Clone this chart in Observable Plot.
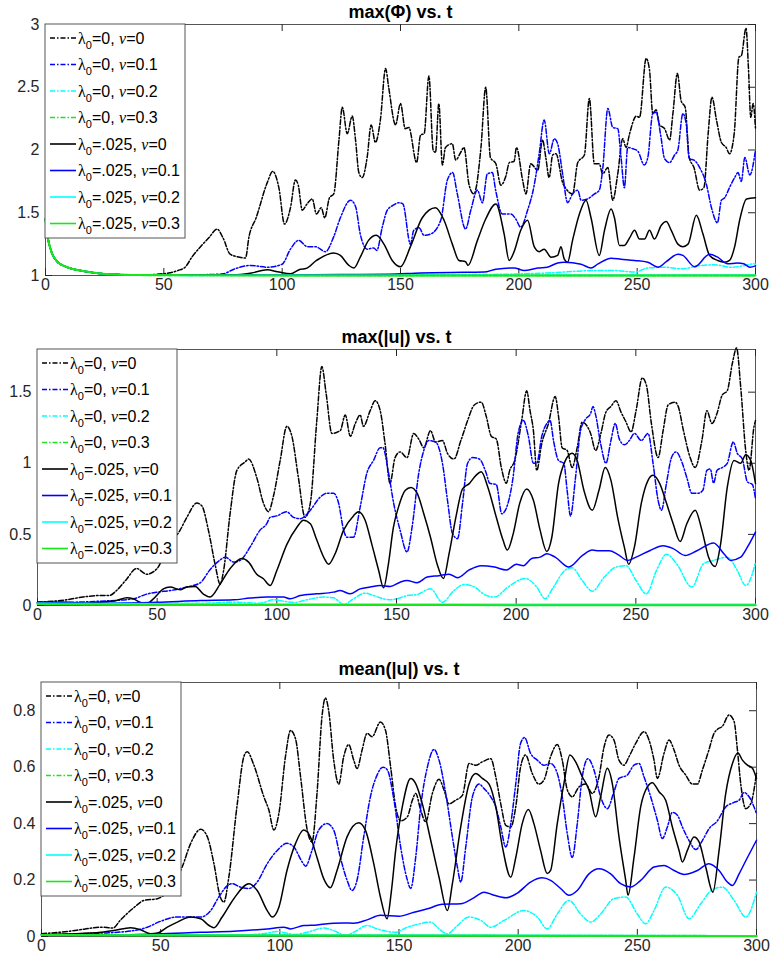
<!DOCTYPE html>
<html>
<head>
<meta charset="utf-8">
<script src="https://cdn.jsdelivr.net/npm/d3@7"></script>
<script src="https://cdn.jsdelivr.net/npm/@observablehq/plot@0.6"></script>
<style>
  body { margin: 0; background: #fff; }
  #chart svg { display: block; }
  .legend text { white-space: pre; }
</style>
</head>
<body>
<div id="chart"></div>
<script>
// ---- axis ticks ----
const tTicks = [0, 50, 100, 150, 200, 250, 300];
const phiTicks = [1, 1.5, 2, 2.5, 3];
const umaxTicks = [0, 0.5, 1, 1.5];
const umeanTicks = [0, 0.2, 0.4, 0.6, 0.8];

// ---- series legend entries (plot order) ----
const lambdaLabels = ["0", "0", "0", "0", ".025", ".025", ".025", ".025"];
const nuLabels = ["0", "0.1", "0.2", "0.3", "0", "0.1", "0.2", "0.3"];
const seriesColors = ["#000000", "#0000ff", "#00ffff", "#19e619", "#000000", "#0000ff", "#00ffff", "#19e619"];
const seriesDashed = [true, true, true, true, false, false, false, false];

// ---- max(Phi) vs t : [t, value] ----
const phiStart = [[0,1.45],[1,1.3],[2.5,1.19],[5,1.11],[8,1.075],[12,1.05],[16,1.035],[23,1.016],[30,1.008],[40,1.003]];
const maxPhi_l0_nu0 = phiStart.concat([[47,1.01],[52,1.02],[56,1.04],[59,1.066],[62,1.15],[65.5,1.23],[69,1.3],[72.5,1.37],[75,1.3],[78,1.17],[81,1.15],[84.5,1.14],[86,1.31],[89,1.46],[93.7,1.74],[96,1.83],[98.6,1.7],[101,1.41],[103.5,1.54],[105.6,1.76],[106.8,1.72],[108.5,1.52],[110.5,1.57],[112.7,1.61],[114.5,1.49],[116.5,1.54],[118,1.46],[120,1.62],[121.8,1.65],[124,2.08],[125.4,2.34],[127.5,2.13],[129.6,2.27],[131,2.08],[132.4,1.82],[133.8,1.78],[135.9,1.94],[137.6,2.2],[139.4,2.06],[141.5,2.24],[143.7,2.65],[145,2.5],[147.9,2.2],[150,2.37],[152,2.17],[153.5,2.18],[156.8,1.9],[158.5,2.12],[160,2.13],[162,2.59],[163.8,2.0],[164.8,1.98],[166.2,2.37],[167.7,1.88],[169,2.02],[171.9,2.05],[173.3,1.92],[175.4,1.98],[176.8,2.02],[179,1.72],[181,1.65],[184,2.02],[186,2.5],[188,1.94],[190.3,1.89],[192.4,1.72],[194.5,1.79],[196,1.9],[198,1.91],[199,2.02],[201.6,1.76],[203,1.65],[205,1.89],[208,1.84],[210,2.08],[211.4,1.94],[212.8,1.78],[214.3,1.96],[215.7,1.97],[218.5,1.74],[220,1.69],[222.7,1.65],[224.9,1.9],[227.7,1.96],[229.8,2.41],[231.9,1.89],[234,1.89],[235.4,1.81],[237.6,1.86],[239.7,1.6],[241.8,1.81],[243.9,2.09],[245.3,2.02],[246.8,2.13],[249.6,2.27],[251,2.26],[253.8,2.73],[255.2,2.64],[256.6,2.29],[258,2.32],[259.5,2.2],[261.6,2.17],[263.7,2.08],[265.1,2.29],[267,2.61],[268.6,2.39],[270.3,2.34],[272,1.94],[274,1.86],[276.4,1.68],[278.2,1.7],[280,2.13],[281.6,2.42],[283.5,2.24],[285.6,2.06],[287.6,2.02],[289,1.97],[291,2.13],[293,2.74],[294,2.75],[296,2.97],[297,2.66],[298,2.26],[299,2.37],[300,2.17]]);
const maxPhi_l0_nu01 = phiStart.concat([[50,1.003],[60,1.005],[70,1.008],[75,1.013],[79.6,1.05],[86.6,1.08],[93.7,1.066],[100,1.09],[103.5,1.21],[107,1.28],[110.6,1.23],[114,1.23],[118.3,1.19],[121.8,1.31],[124.6,1.46],[128.9,1.6],[131,1.55],[133,1.33],[135.9,1.21],[138.7,1.22],[140,1.2],[142.3,1.385],[144.4,1.52],[147,1.56],[149.3,1.58],[151,1.57],[154.2,1.25],[155.6,1.36],[157.8,1.38],[160,1.32],[162.7,1.33],[167,1.44],[169.8,1.76],[172,1.82],[174,1.65],[177.5,1.37],[179.7,1.52],[182.5,1.68],[184.6,1.58],[186.7,1.81],[188.8,1.82],[190.2,1.68],[193,1.49],[196.6,1.49],[198.7,1.45],[200.8,1.385],[203.7,1.52],[206.5,1.72],[208.6,1.97],[210.7,2.24],[212.9,1.97],[215,2.09],[216.4,2.05],[218.5,1.81],[220.6,1.58],[222.7,1.65],[224.9,1.68],[226.3,1.6],[229,1.61],[232,1.65],[234,1.68],[235.5,1.86],[237.6,2.33],[239.7,2.18],[241.8,2.17],[243.2,1.94],[244.6,1.7],[246,2.02],[248.2,2.01],[250.3,1.99],[253,1.88],[254.5,1.94],[256.6,2.29],[258,2.3],[260,2.11],[261.6,1.93],[263.7,1.9],[265.8,1.96],[267.2,2.0],[269.3,2.29],[270.7,2.21],[272,1.93],[274,1.92],[276.4,1.86],[279.2,1.73],[281.4,1.54],[283.9,1.42],[285.6,1.6],[287,1.62],[289,1.7],[291.2,1.78],[292.6,1.82],[294,1.75],[295.5,1.94],[297.6,1.8],[300,2.0]]);
const maxPhi_l0_nu02 = phiStart.concat([[60,1.001],[120,1.003],[160,1.008],[184,1.008],[212,1.02],[233.3,1.04],[240.4,1.04],[249,1.027],[254.5,1.06],[261.6,1.066],[268.6,1.053],[277,1.08],[282.8,1.085],[289.8,1.066],[295.5,1.08],[299,1.093],[300,1.09]]);
const maxPhi_l0_nu03 = phiStart.concat([[100,1.001],[300,1.001]]);
const maxPhi_l025_nu0 = phiStart.concat([[50,1.002],[70,1.005],[79.6,1.005],[87,1.02],[93.7,1.045],[98,1.03],[103.5,1.013],[107.7,1.05],[110,1.055],[114.5,1.12],[121.8,1.18],[124.6,1.16],[128.2,1.08],[130.3,1.06],[133,1.146],[136.5,1.28],[139.8,1.32],[143,1.25],[146.5,1.12],[150,1.07],[154.2,1.23],[159.2,1.46],[164.8,1.54],[168.4,1.44],[171.9,1.25],[174.7,1.12],[177.5,1.11],[178.5,1.08],[182.5,1.28],[186,1.45],[190.3,1.57],[193.8,1.33],[195.9,1.12],[198,1.19],[200.8,1.36],[203.7,1.44],[206.5,1.23],[208.6,1.19],[210.7,1.21],[213.6,1.146],[216.4,1.16],[217.8,1.23],[219.2,1.13],[220.6,1.106],[222.7,1.28],[225.6,1.49],[228.4,1.6],[230.5,1.46],[234,1.16],[236.2,1.36],[239,1.53],[240.4,1.46],[242.5,1.24],[244.6,1.24],[246.8,1.3],[248.9,1.36],[251,1.29],[253.1,1.29],[255.2,1.36],[257.3,1.29],[260.2,1.4],[262.3,1.43],[264.4,1.36],[267.2,1.25],[269.3,1.23],[271.5,1.25],[275,1.48],[277.8,1.33],[280.6,1.16],[284,1.12],[287,1.106],[289,1.12],[291.2,1.23],[293.3,1.44],[296.2,1.61],[300,1.62]]);
const maxPhi_l025_nu01 = phiStart.concat([[60,1.002],[100,1.004],[130,1.008],[145,1.01],[158.5,1.02],[176.8,1.025],[185.3,1.027],[190.3,1.05],[198,1.06],[202.3,1.04],[208,1.06],[212,1.066],[216.4,1.1],[219.2,1.106],[226.3,1.09],[230.5,1.06],[233.3,1.09],[239,1.138],[243.2,1.13],[248.9,1.12],[254.5,1.106],[258.8,1.066],[262.3,1.11],[267.2,1.17],[269.3,1.16],[274.3,1.07],[280.6,1.17],[284,1.146],[288.2,1.093],[292.4,1.1],[295,1.093],[297.6,1.066],[300,1.077]]);
const maxPhi_l025_nu02 = phiStart.concat([[60,1.001],[300,1.003]]);
const maxPhi_l025_nu03 = phiStart.concat([[100,1.0],[300,1.0]]);

// ---- max(|u|) vs t ----
const umax_l0_nu0 = [[0,0.023],[12,0.04],[19,0.06],[26,0.07],[30,0.07],[33,0.105],[37,0.18],[41.4,0.26],[45.6,0.22],[50,0.26],[54,0.4],[59.6,0.53],[62.4,0.62],[66.6,0.72],[68.7,0.7],[71.4,0.53],[74.2,0.29],[76.3,0.15],[77.7,0.24],[80.5,0.65],[83.3,0.95],[86.8,1.01],[88.2,1.03],[91.6,0.9],[94.4,0.72],[96.5,0.66],[98.6,0.77],[101.4,1.02],[104.2,1.26],[106.3,1.19],[109,0.9],[111.8,0.62],[114,0.72],[116.7,1.3],[118.8,1.68],[120.6,1.49],[123,1.21],[126.5,1.23],[128.6,1.34],[130.7,1.19],[132.8,1.28],[134.8,1.34],[136.2,1.26],[139,1.37],[141.1,1.44],[143.2,1.37],[145.2,1.14],[147.3,0.86],[149.4,1.04],[151.5,1.08],[154.4,1.04],[157.2,1.21],[159.3,1.17],[161.4,1.11],[164.2,1.23],[166.3,1.15],[169.2,1.16],[171.3,1.07],[174,1.03],[176.9,1.16],[179.7,1.3],[182.5,1.41],[185.4,1.43],[187.5,1.33],[189.6,1.19],[191.7,1.17],[193.8,0.97],[195.9,0.86],[197.3,0.95],[199.4,1.02],[202.3,1.3],[204.4,1.51],[205.8,1.37],[207.2,1.23],[208.6,0.95],[210.7,1.14],[213.5,1.28],[216.3,1.47],[217.7,1.33],[219.2,1.11],[221.3,1.09],[223.4,0.97],[225.5,1.11],[227.6,1.29],[229.7,1.26],[231.1,1.21],[233.2,1.09],[235.4,1.21],[237.5,1.36],[239.6,1.4],[241.7,1.44],[243.8,1.36],[245.9,1.29],[248,1.22],[250.1,1.37],[252.7,1.6],[254.4,1.55],[256.5,1.28],[259.3,1.04],[261.4,1.23],[263.5,1.41],[266.3,1.43],[267.7,1.4],[269.9,1.23],[272.7,1.04],[274.8,0.97],[277.6,1.16],[279.7,1.37],[281.8,1.28],[283.9,1.35],[286.1,1.48],[288.2,1.51],[290.3,1.7],[292.1,1.81],[293.8,1.54],[295.9,1.09],[297.3,0.95],[299.4,1.26],[300,1.3]];
const umax_l0_nu01 = [[0,0.023],[12,0.023],[26,0.03],[40,0.047],[45.6,0.08],[50,0.094],[55.4,0.105],[62.4,0.13],[68,0.16],[72,0.25],[76.3,0.32],[78.4,0.34],[82,0.305],[84.7,0.317],[88.8,0.41],[93,0.53],[95.8,0.575],[97.2,0.62],[100,0.63],[104,0.66],[107,0.62],[109.8,0.61],[114,0.67],[118,0.76],[121,0.79],[123.7,0.79],[125.8,0.72],[127.9,0.53],[129.3,0.48],[132,0.48],[134.8,0.69],[137.6,0.93],[140.4,1.02],[143.2,1.11],[144.3,1.11],[146.7,0.93],[148.8,0.72],[151.5,0.53],[154.4,0.376],[156.5,0.55],[159.3,0.93],[161.4,1.09],[163.5,1.16],[166.3,1.15],[169.2,1.0],[171.3,0.74],[173.4,0.505],[175.5,0.47],[177.6,0.72],[179.7,1.0],[181.8,1.04],[184.6,1.03],[187.5,0.93],[188.9,0.86],[191.7,0.85],[194,0.645],[196.6,0.72],[198.7,0.9],[200.8,1.21],[203,1.3],[205.1,1.19],[207.2,1.0],[208.6,1.0],[210.7,1.19],[212.8,1.28],[214.2,1.3],[215.6,1.16],[217.7,1.02],[219.9,1.0],[221.3,0.81],[222.7,0.63],[224.8,0.9],[226.9,1.23],[229,1.31],[231.1,1.35],[232.1,1.4],[233.2,1.34],[235.4,1.13],[237.5,1.0],[239.6,1.16],[241.4,1.28],[243.1,1.17],[245.2,1.13],[247.3,1.16],[249.4,1.21],[252.3,1.16],[255.1,1.21],[257.2,1.0],[259.3,0.74],[260.7,0.67],[262.8,0.86],[264.9,1.04],[266.8,1.08],[269.2,1.01],[271.3,0.9],[273.4,0.79],[276.2,0.79],[278,0.81],[279.7,0.95],[281.1,0.96],[282.5,0.86],[283.9,0.95],[286.1,0.97],[288.2,1.0],[290.7,1.15],[292.4,1.07],[294.5,1.03],[296.6,0.87],[298.7,0.85],[300,0.75]];
const umax_l0_nu02 = [[0,0.016],[40,0.016],[68,0.016],[82,0.023],[93,0.016],[98.6,0.04],[102.8,0.03],[107,0.021],[112.5,0.04],[119.5,0.059],[123.7,0.054],[127.9,0.007],[132,0.047],[136.9,0.087],[140.4,0.07],[144.6,0.047],[147.3,0.04],[150.1,0.047],[154.4,0.07],[158.6,0.077],[164.2,0.117],[169.2,0.023],[174,0.105],[178.3,0.148],[182.5,0.13],[186.8,0.077],[191,0.059],[196.6,0.13],[203.7,0.19],[208.6,0.13],[212.1,0.047],[215.6,0.13],[220.6,0.25],[223.4,0.265],[227.6,0.176],[231.8,0.1],[236.8,0.2],[241.7,0.27],[245.9,0.28],[250.1,0.176],[254.4,0.082],[258.6,0.246],[262.8,0.36],[267,0.294],[273.4,0.13],[278.3,0.294],[282.5,0.317],[288.2,0.34],[292.4,0.246],[295.9,0.14],[298.7,0.223],[300,0.305]];
const umax_l0_nu03 = [[0,0.012],[50,0.004],[300,0.003]];
const umax_l025_nu0 = [[0,0.023],[12,0.023],[19,0.016],[26,0.023],[33,0.035],[37.3,0.054],[40,0.047],[42.8,0.023],[45.6,0.012],[48.4,0.047],[52.6,0.117],[55.4,0.13],[59.6,0.11],[62.4,0.13],[65.9,0.134],[69.3,0.08],[72.1,0.06],[76.3,0.15],[80.5,0.26],[85.4,0.33],[88.2,0.305],[91.6,0.22],[94.4,0.188],[97.2,0.14],[100,0.246],[104.2,0.43],[108.4,0.55],[111.1,0.6],[114,0.575],[116.7,0.46],[120.2,0.32],[121.6,0.29],[124.4,0.366],[127.9,0.53],[132,0.63],[134.1,0.66],[136.9,0.6],[139.7,0.43],[142.5,0.25],[144.6,0.124],[146.6,0.29],[148.7,0.55],[150.8,0.69],[153.7,0.81],[156,0.83],[158.6,0.79],[161.4,0.645],[164.2,0.48],[167,0.29],[169.6,0.19],[172,0.366],[174.8,0.62],[177.6,0.82],[180.4,0.857],[183.2,0.915],[185.4,0.94],[188.2,0.83],[191.7,0.62],[194.5,0.46],[196.3,0.39],[198.7,0.5],[201.5,0.72],[204.4,0.82],[207.2,0.74],[210,0.53],[212.8,0.38],[214.9,0.48],[217.7,0.857],[220.6,1.02],[223.4,1.07],[225.5,1.02],[228.3,0.81],[231.8,0.67],[234.6,0.81],[237.2,0.97],[239.6,0.88],[242.4,0.62],[245.2,0.41],[247,0.29],[249.4,0.41],[252.3,0.72],[255.1,0.88],[257.2,0.915],[260,0.857],[262.8,0.72],[265.6,0.575],[268.5,0.45],[271.3,0.575],[274.8,0.67],[277.6,0.53],[280.4,0.34],[283.2,0.275],[285.4,0.43],[288.2,0.83],[291,1.02],[293.8,1.0],[295.9,1.06],[298,1.02],[300,0.857]];
const umax_l025_nu01 = [[0,0.023],[26,0.016],[50,0.023],[68,0.035],[82,0.04],[88.8,0.052],[95.8,0.059],[102.8,0.059],[105.6,0.047],[109.8,0.07],[116.7,0.082],[123.7,0.094],[126.5,0.105],[130.7,0.082],[134.8,0.117],[139,0.13],[143.2,0.14],[147.4,0.133],[151.5,0.164],[154.4,0.176],[158.6,0.16],[162.8,0.2],[167.7,0.21],[172,0.22],[175.5,0.195],[180.4,0.25],[185.4,0.28],[191,0.27],[195.9,0.25],[200.1,0.29],[203,0.28],[206.5,0.33],[210,0.34],[212.8,0.364],[216.3,0.34],[222,0.27],[227.6,0.35],[231.8,0.39],[234.6,0.385],[238.9,0.385],[242.4,0.36],[246.6,0.317],[250.1,0.34],[255.8,0.385],[261.4,0.42],[265.6,0.4],[270.6,0.352],[275.5,0.385],[282.5,0.44],[286.8,0.364],[289.6,0.317],[293.8,0.34],[296.6,0.41],[300,0.516]];
const umax_l025_nu02 = [[0,0.016],[100,0.01],[300,0.008]];
const umax_l025_nu03 = [[0,0.012],[50,0.004],[300,0.002]];

// ---- mean(|u|) vs t ----
const umean_l0_nu0 = [[0,0.01],[11,0.018],[18,0.026],[25,0.033],[30,0.03],[33,0.057],[39,0.104],[43,0.128],[48.6,0.134],[53,0.16],[59,0.246],[62.6,0.33],[66.8,0.38],[69.6,0.353],[72.3,0.26],[75,0.14],[76.5,0.122],[78.6,0.21],[82,0.46],[85,0.64],[86.3,0.655],[89,0.61],[93.3,0.495],[95.4,0.448],[97.5,0.377],[99.6,0.436],[102.4,0.64],[104.5,0.73],[106.6,0.7],[108.7,0.566],[111.5,0.377],[113.5,0.335],[115.6,0.507],[117.7,0.78],[119.1,0.845],[120.5,0.8],[122.6,0.625],[124.7,0.54],[126.8,0.637],[128.9,0.68],[131,0.625],[132.4,0.595],[134.5,0.66],[136.6,0.72],[138.7,0.708],[142.2,0.76],[144.3,0.732],[146.5,0.6],[148.6,0.46],[150.7,0.41],[153.5,0.424],[155.6,0.483],[157,0.507],[159.1,0.448],[161.2,0.406],[164,0.507],[166.8,0.557],[168.9,0.519],[171,0.47],[173.8,0.483],[176.6,0.5],[179.4,0.613],[182.2,0.607],[185,0.619],[188.5,0.63],[190.6,0.566],[192.7,0.47],[194.8,0.394],[196.9,0.388],[199,0.46],[201,0.6],[203.1,0.643],[205.9,0.578],[208.7,0.54],[210.8,0.554],[213.6,0.637],[216.4,0.68],[218.5,0.625],[220.6,0.52],[222.7,0.495],[225.5,0.53],[228.3,0.54],[231.1,0.507],[233.9,0.566],[236,0.67],[238.1,0.714],[240.2,0.696],[242.3,0.625],[244.4,0.607],[246.5,0.637],[249.3,0.684],[252.8,0.726],[254.9,0.696],[257,0.625],[258.4,0.56],[261.2,0.649],[263.3,0.696],[265.4,0.661],[267.5,0.607],[270.3,0.572],[273.1,0.54],[275.2,0.54],[277.3,0.59],[280,0.66],[282.2,0.72],[283.6,0.734],[285.7,0.745],[288.5,0.785],[290.6,0.762],[292,0.661],[293.4,0.54],[295.5,0.453],[297.6,0.471],[300,0.578]];
const umean_l0_nu01 = [[0,0.007],[25,0.012],[38.8,0.021],[44.4,0.033],[50,0.054],[57,0.069],[62.6,0.069],[66.8,0.069],[71,0.092],[74.4,0.14],[78,0.18],[80,0.187],[83.5,0.175],[87,0.17],[90.5,0.193],[94.7,0.258],[98.9,0.305],[103,0.33],[105.9,0.317],[109.4,0.264],[110.8,0.249],[113.5,0.305],[116.3,0.377],[119.8,0.4],[122.6,0.377],[125.4,0.28],[128.2,0.2],[130.3,0.163],[132.4,0.2],[135.2,0.353],[138,0.495],[140.8,0.572],[143.3,0.6],[145.1,0.59],[147.9,0.483],[150.7,0.317],[153.5,0.2],[154.9,0.17],[157,0.28],[159.1,0.459],[161.9,0.6],[164.7,0.663],[166.8,0.625],[169.6,0.507],[172.4,0.353],[174.5,0.246],[175.9,0.193],[178,0.317],[180.8,0.495],[183.6,0.54],[185.7,0.524],[188.5,0.495],[190.6,0.459],[192.7,0.388],[194.8,0.317],[196.9,0.4],[199,0.542],[201,0.684],[202.7,0.705],[205.2,0.649],[208,0.625],[210.8,0.607],[213.6,0.613],[216.4,0.578],[218.5,0.495],[220.6,0.365],[222.7,0.28],[224.8,0.4],[226.9,0.566],[229.3,0.63],[231.8,0.59],[234.6,0.495],[237.4,0.453],[240.2,0.513],[242.3,0.56],[245.8,0.572],[248.6,0.607],[250.7,0.613],[252.8,0.566],[255.6,0.495],[258.4,0.412],[260.5,0.347],[262.6,0.388],[264.7,0.44],[266.8,0.43],[268.9,0.388],[271.7,0.34],[274.5,0.308],[277.3,0.34],[280.1,0.382],[283.6,0.41],[287.1,0.459],[290.6,0.475],[292.7,0.483],[294.8,0.51],[296.9,0.495],[300,0.436]];
const umean_l0_nu02 = [[0,0.004],[80,0.004],[94.7,0.012],[98.9,0.018],[103,0.012],[105.9,0.007],[111.5,0.015],[118.4,0.03],[122.6,0.021],[127.5,0.004],[131,0.015],[136.6,0.039],[140.8,0.027],[145.1,0.018],[148.6,0.015],[153.5,0.033],[157.7,0.043],[163.3,0.051],[166.8,0.027],[170.3,0.009],[173.8,0.033],[179.4,0.069],[184.3,0.057],[188.5,0.033],[194.1,0.057],[202.4,0.092],[208,0.069],[212.2,0.027],[216.4,0.08],[221.3,0.128],[226.2,0.08],[230.4,0.051],[234.6,0.08],[240.2,0.134],[245.1,0.14],[250,0.08],[253.5,0.045],[257,0.092],[261.9,0.175],[266.8,0.146],[271.7,0.063],[276.6,0.116],[281.5,0.166],[285.7,0.175],[290.6,0.128],[295.5,0.069],[300,0.157]];
const umean_l0_nu03 = [[0,0.005],[300,0.002]];
const umean_l025_nu0 = [[0,0.006],[11,0.009],[25,0.015],[30.4,0.021],[37.4,0.031],[41.6,0.024],[45.8,0.01],[48.6,0.012],[52.8,0.033],[57,0.051],[62.6,0.069],[66.8,0.063],[70.3,0.039],[72.3,0.031],[75.8,0.069],[80.7,0.134],[87,0.187],[90.5,0.163],[94.7,0.092],[96.8,0.069],[99.6,0.104],[103,0.234],[106.6,0.33],[110,0.377],[112.8,0.353],[115.6,0.28],[118.4,0.205],[121.2,0.173],[124,0.234],[128.2,0.353],[133.1,0.403],[135.9,0.377],[139.4,0.258],[142.2,0.14],[145,0.063],[146.8,0.16],[148.6,0.305],[151.4,0.46],[154.9,0.56],[157,0.542],[159.8,0.47],[163.3,0.341],[166.8,0.21],[170.3,0.092],[172.4,0.187],[175.9,0.388],[179.4,0.54],[182.2,0.578],[185,0.56],[187.8,0.54],[190.6,0.46],[193.4,0.317],[196.9,0.21],[199,0.28],[201.7,0.4],[204.3,0.45],[206.6,0.4],[209.4,0.305],[212.2,0.223],[213.6,0.234],[216.4,0.4],[219.2,0.542],[221.7,0.643],[224.1,0.619],[226.9,0.566],[229.7,0.519],[232.5,0.424],[234.6,0.495],[237.4,0.596],[239.5,0.542],[242.3,0.353],[245.1,0.2],[246.1,0.146],[248.6,0.28],[251.4,0.459],[254.2,0.53],[256.3,0.545],[259.1,0.513],[261.9,0.483],[264.7,0.388],[267.5,0.305],[268.9,0.264],[271,0.305],[273.8,0.353],[275.9,0.335],[278.7,0.246],[281.7,0.157],[284.3,0.305],[287.1,0.507],[289.9,0.613],[292.2,0.65],[294.1,0.625],[296.2,0.607],[298.3,0.596],[300,0.56]];
const umean_l025_nu01 = [[0,0.006],[25,0.006],[48.6,0.009],[66.8,0.015],[80.7,0.019],[94.7,0.027],[101.7,0.033],[104.5,0.027],[110,0.039],[115.6,0.041],[122.6,0.047],[126.8,0.048],[131,0.047],[136.6,0.059],[142.2,0.075],[150,0.072],[156.3,0.086],[161.9,0.098],[168.2,0.114],[175.9,0.116],[180.8,0.134],[185.7,0.157],[189.9,0.146],[194.8,0.137],[199.7,0.154],[205.2,0.193],[210.1,0.208],[213.6,0.199],[217.8,0.17],[221.3,0.146],[224.8,0.163],[229.7,0.222],[233.9,0.24],[238.8,0.222],[243,0.187],[247.2,0.175],[251.4,0.199],[257,0.246],[261.2,0.252],[265.4,0.234],[269.6,0.22],[275.2,0.234],[280,0.258],[284.3,0.234],[287.8,0.193],[289.9,0.181],[292.7,0.222],[296.2,0.28],[300,0.341]];
const umean_l025_nu02 = [[0,0.006],[300,0.003]];
const umean_l025_nu03 = [[0,0.005],[300,0.001]];

// ---- panels ----
const panels = [
  {title: "max(\u03A6) vs. t", yDomain: [1, 3], yTicks: phiTicks,
   series: [maxPhi_l0_nu0, maxPhi_l0_nu01, maxPhi_l0_nu02, maxPhi_l0_nu03, maxPhi_l025_nu0, maxPhi_l025_nu01, maxPhi_l025_nu02, maxPhi_l025_nu03],
   height: 322, marginTop: 24, marginBottom: 47, marginLeft: 45, marginRight: 18, titleDy: -12.5},
  {title: "max(|u|) vs. t", yDomain: [0, 1.8], yTicks: umaxTicks,
   series: [umax_l0_nu0, umax_l0_nu01, umax_l0_nu02, umax_l0_nu03, umax_l025_nu0, umax_l025_nu01, umax_l025_nu02, umax_l025_nu03],
   height: 333, marginTop: 27, marginBottom: 50, marginLeft: 37, marginRight: 18, titleDy: -12},
  {title: "mean(|u|) vs. t", yDomain: [0, 0.9], yTicks: umeanTicks,
   series: [umean_l0_nu0, umean_l0_nu01, umean_l0_nu02, umean_l0_nu03, umean_l025_nu0, umean_l025_nu01, umean_l025_nu02, umean_l025_nu03],
   height: 313, marginTop: 27, marginBottom: 32, marginLeft: 41, marginRight: 17, titleDy: -13.5}
];

const W = 773;
const axisColor = "#262626";
const frameColor = "#555555";
const dashDot = "5,2,1.5,2";
const tickLen = 7;

function drawLegend(svg, left, top) {
  const legendW = 140, legendH = 214, rowGap = 26.5, firstRow = 14;
  const g = d3.select(svg).append("g").attr("class", "legend")
    .attr("font-family", "'Liberation Sans', Arial, Helvetica, sans-serif")
    .attr("text-anchor", "start")
    .attr("fill", "#000");
  g.append("rect")
    .attr("x", left).attr("y", top)
    .attr("width", legendW).attr("height", legendH)
    .attr("fill", "#fff").attr("stroke", frameColor).attr("stroke-width", 1);
  seriesColors.forEach((color, i) => {
    const cy = top + firstRow + i * rowGap;
    g.append("line")
      .attr("x1", left + 5).attr("x2", left + 31)
      .attr("y1", cy).attr("y2", cy)
      .attr("stroke", color).attr("stroke-width", 1.6)
      .attr("stroke-dasharray", seriesDashed[i] ? dashDot : null);
    const text = g.append("text")
      .attr("x", left + 33).attr("y", cy + 5.5)
      .attr("text-anchor", "start")
      .attr("font-size", 16);
    text.append("tspan").attr("font-family", "'Liberation Serif', 'DejaVu Serif', serif").text("\u03BB");
    text.append("tspan").attr("font-size", 11).attr("dy", 5).text("0");
    text.append("tspan").attr("dy", -5).text("=" + lambdaLabels[i] + ", ");
    text.append("tspan").attr("font-family", "'Liberation Serif', 'DejaVu Serif', serif").attr("font-style", "italic").text("\u03BD");
    text.append("tspan").text("=" + nuLabels[i]);
  });
}

const chart = document.getElementById("chart");

panels.forEach(p => {
  const plotW = W - p.marginLeft - p.marginRight;
  const plotH = p.height - p.marginTop - p.marginBottom;
  const lineMarks = p.series.map((s, i) => Plot.line(s, {
    x: d => d[0], y: d => d[1],
    stroke: seriesColors[i],
    strokeWidth: i === 3 || i === 7 ? 2 : 1.5,
    strokeDasharray: seriesDashed[i] ? dashDot : null,
    curve: "monotone-x"
  }));
  const svg = Plot.plot({
    width: W,
    height: p.height,
    marginTop: p.marginTop,
    marginBottom: p.marginBottom,
    marginLeft: p.marginLeft,
    marginRight: p.marginRight,
    style: {fontFamily: "'Liberation Sans', Arial, Helvetica, sans-serif", fontSize: "16px", color: axisColor, background: "#fff", overflow: "visible"},
    x: {domain: [0, 300], label: null},
    y: {domain: p.yDomain, label: null},
    marks: [
      Plot.frame({stroke: frameColor, strokeWidth: 1}),
      // inward ticks on all four sides
      Plot.tickY(p.yTicks, {y: d => d, insetRight: plotW - tickLen, stroke: axisColor}),
      Plot.tickY(p.yTicks, {y: d => d, insetLeft: plotW - tickLen, stroke: axisColor}),
      Plot.tickX(tTicks, {x: d => d, insetTop: plotH - tickLen, stroke: axisColor}),
      Plot.tickX(tTicks, {x: d => d, insetBottom: plotH - tickLen, stroke: axisColor}),
      Plot.axisX({ticks: tTicks, tickSize: 0, tickPadding: 3, tickFormat: d => String(d), fontSize: 16}),
      Plot.axisY({ticks: p.yTicks, tickSize: 0, tickPadding: 6, tickFormat: d => String(d), fontSize: 16}),
      ...lineMarks,
      Plot.text([p.title], {frameAnchor: "top", dy: p.titleDy, text: d => d, fontWeight: "bold", fontSize: 18, fill: "#000", lineAnchor: "middle"})
    ]
  });
  drawLegend(svg, p.marginLeft, p.marginTop);
  chart.appendChild(svg);
});
</script>
</body>
</html>
